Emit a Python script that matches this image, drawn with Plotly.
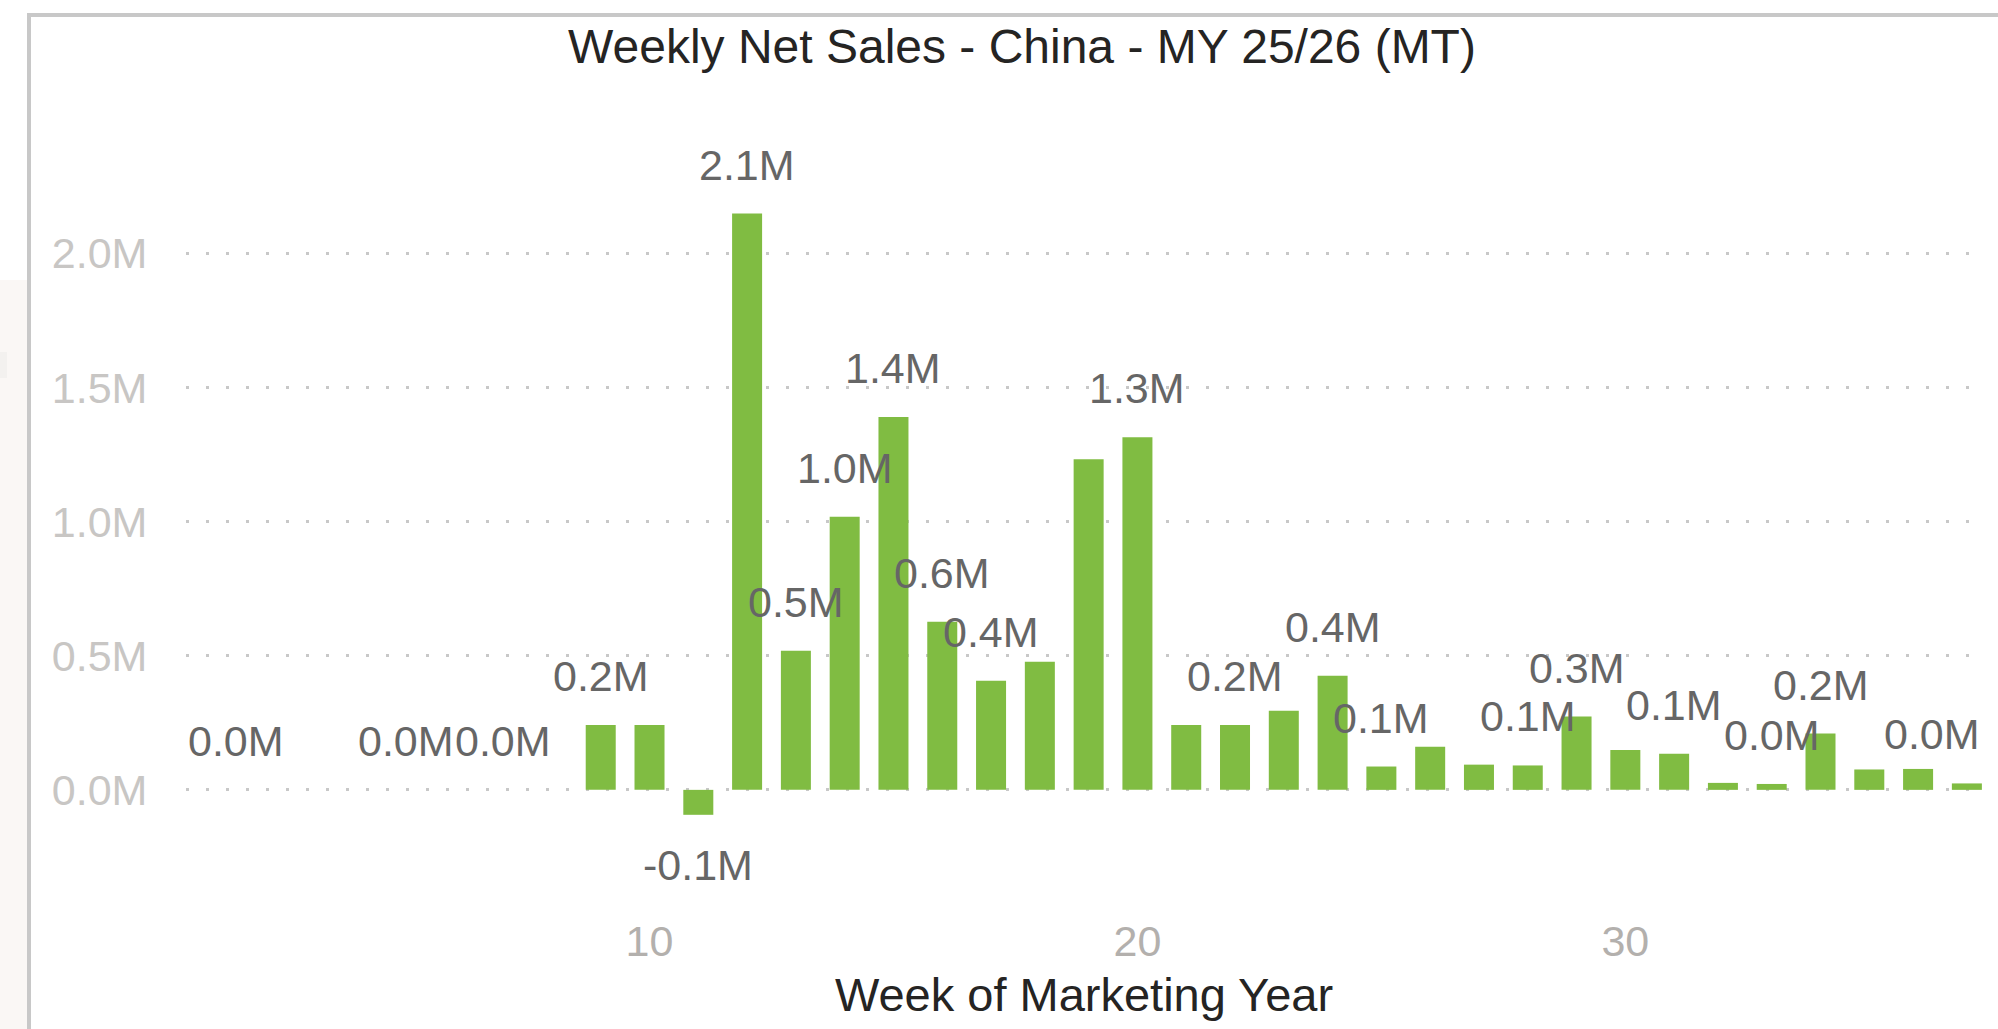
import plotly.graph_objects as go

# ---------------- data ----------------
weeks = [1, 5, 7, 9, 10, 11, 12, 13, 14, 15, 16, 17, 18, 19, 20, 21, 22, 23, 24,
         25, 26, 27, 28, 29, 30, 31, 32, 33, 34, 35, 36, 37]
net_sales_mt = [0, 0, 0, 242000, 242000, -93000, 2148000, 519000, 1018000, 1390000,
                627000, 407000, 478000, 1232000, 1314000, 242000, 242000, 295000,
                425000, 87000, 161000, 94000, 91000, 273000, 149000, 135000, 26000,
                22000, 210000, 76000, 78000, 24000]
# data labels shown (others hidden because of overlap in the original)
labeled_weeks = [1, 5, 7, 9, 11, 12, 13, 14, 15, 16, 17, 20, 22, 24, 25, 28, 29,
                 31, 33, 34, 37]
y_tick_vals = [0, 500000, 1000000, 1500000, 2000000]
y_tick_text = ["0.0M", "0.5M", "1.0M", "1.5M", "2.0M"]
x_tick_vals = [10, 20, 30]
x_tick_text = ["10", "20", "30"]

title_text = "Weekly Net Sales - China - MY 25/26 (MT)"
x_title = "Week of Marketing Year"

# ---------------- style ----------------
FONT = "Liberation Sans, Arial, Helvetica, sans-serif"
W, H = 1998, 1029
ML, MR, MT, MB = 186, 16, 146, 105
XR = [0.5, 37.31]
YR = [-500000, 2400000]
BAR_COLOR = "#80bc42"
LABEL_COLOR = "#666666"
LABEL_SIZE = 43

fig = go.Figure(
    go.Bar(
        x=weeks,
        y=net_sales_mt,
        marker=dict(color=BAR_COLOR, line=dict(width=0)),
        hoverinfo="x+y",
    )
)

# data labels as annotations above/below bars, clamped to the plot area
plot_w = W - ML - MR
px_per_week = plot_w / (XR[1] - XR[0])
half_label_weeks = (LABEL_SIZE * 2.22 / 2) / px_per_week
annotations = []
for wk, v in zip(weeks, net_sales_mt):
    if wk not in labeled_weeks:
        continue
    txt = f"{v / 1e6:.1f}M"
    x, xanchor = wk, "center"
    if wk - half_label_weeks < XR[0]:
        x, xanchor = XR[0], "left"
    elif wk + half_label_weeks > XR[1]:
        x, xanchor = XR[1], "right"
    neg = v < 0
    annotations.append(dict(
        x=x, y=v, xref="x", yref="y", text=txt, showarrow=False,
        xanchor=xanchor, yanchor="top" if neg else "bottom",
        yshift=-24 if neg else 23,
        font=dict(family=FONT, size=LABEL_SIZE, color=LABEL_COLOR),
    ))


def px_x(p):
    return (p - ML) / plot_w


def px_y(p):
    return 1 - (p - MT) / (H - MT - MB)


border = "#c8c8c8"
shapes = [
    # page background strip on the far left
    dict(type="rect", xref="paper", yref="paper", x0=px_x(0), x1=px_x(27),
         y0=px_y(1029), y1=px_y(280), fillcolor="#faf7f5", line=dict(width=0), layer="below"),
    dict(type="rect", xref="paper", yref="paper", x0=px_x(0), x1=px_x(7),
         y0=px_y(378), y1=px_y(352), fillcolor="#f3f1ef", line=dict(width=0), layer="below"),
    # visual border (left + top)
    dict(type="rect", xref="paper", yref="paper", x0=px_x(27), x1=px_x(31),
         y0=px_y(1029), y1=px_y(13), fillcolor=border, line=dict(width=0)),
    dict(type="rect", xref="paper", yref="paper", x0=px_x(27), x1=px_x(1998),
         y0=px_y(17), y1=px_y(13), fillcolor=border, line=dict(width=0)),
]

fig.update_layout(
    width=W, height=H,
    margin=dict(l=ML, r=MR, t=MT, b=MB, pad=0, autoexpand=False),
    paper_bgcolor="white", plot_bgcolor="white",
    showlegend=False,
    bargap=0.385,
    font=dict(family=FONT),
    title=dict(
        text=title_text, x=1022 / W, xref="container", xanchor="center",
        y=1 - 29 / H, yref="container", yanchor="top", automargin=False,
        font=dict(family=FONT, size=48, color="#252423"),
    ),
    xaxis=dict(
        range=XR, tickmode="array", tickvals=x_tick_vals, ticktext=x_tick_text,
        showgrid=False, zeroline=False, showline=False, automargin=False,
        ticks="", ticklabelstandoff=-12,
        tickfont=dict(family=FONT, size=43, color="#b3b0ad"),
        title=dict(text=x_title, standoff=14,
                   font=dict(family=FONT, size=47, color="#252423")),
    ),
    yaxis=dict(
        range=YR, tickmode="array", tickvals=y_tick_vals, ticktext=y_tick_text,
        showgrid=True, gridcolor="#c8c8c8", gridwidth=3, griddash="3px,17px",
        zeroline=False, showline=False, automargin=False,
        ticks="outside", ticklen=29, tickcolor="rgba(0,0,0,0)",
        tickfont=dict(family=FONT, size=43, color="#c8c6c4"),
    ),
    annotations=annotations,
    shapes=shapes,
)

fig.write_html(
    "out.html",
    config={"displayModeBar": False},
    post_script="document.body.style.margin='0';document.body.style.overflow='hidden';",
)
